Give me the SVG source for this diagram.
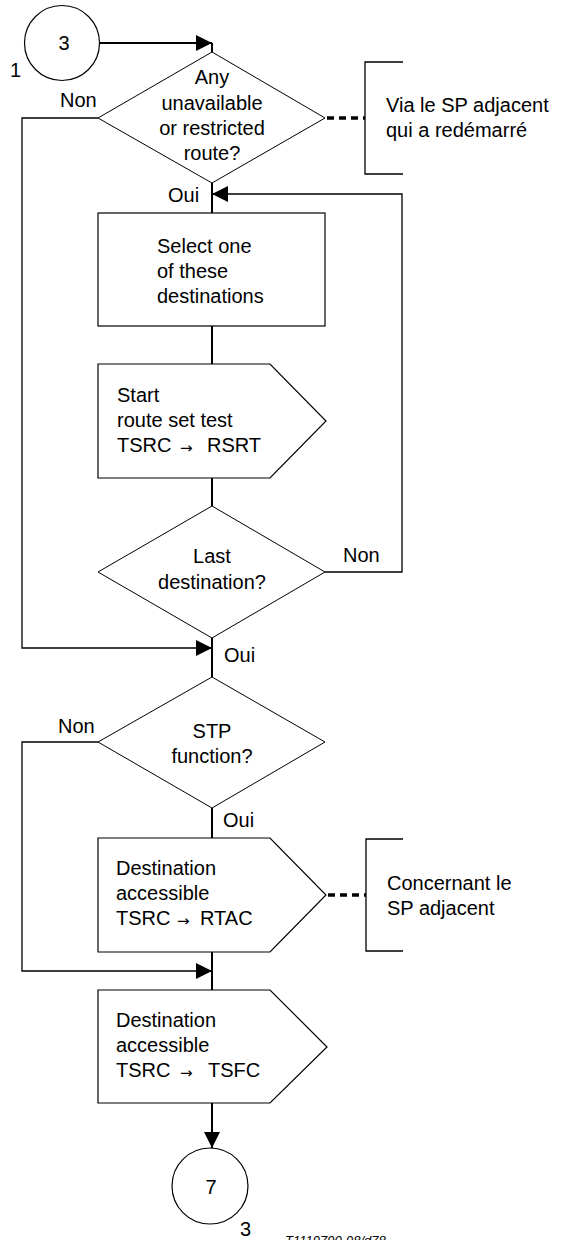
<svg xmlns="http://www.w3.org/2000/svg" width="566" height="1240" viewBox="0 0 566 1240">
<style>
.shape{fill:#fff;stroke:#000;stroke-width:1.2}
.dia{fill:#fff;stroke:#000;stroke-width:1}
.con{fill:none;stroke:#000;stroke-width:2}
.thin{fill:none;stroke:#000;stroke-width:1.3}
.dash{fill:none;stroke:#000;stroke-width:3.5;stroke-dasharray:7,5}
text{font-family:"Liberation Sans",Arial,sans-serif;font-size:20px;fill:#000}
.c{text-anchor:middle}
.arr{font-family:"DejaVu Sans",sans-serif;font-size:15px}
</style>
<defs>
<marker id="ah" markerUnits="userSpaceOnUse" markerWidth="16" markerHeight="16" viewBox="0 0 14 14" refX="14" refY="7" orient="auto">
<path d="M0,0 L14,7 L0,14 Z" fill="#000"/>
</marker>
</defs>
<g id="connectors">
<path class="con" d="M100,43 H212" marker-end="url(#ah)"/>
<path class="con" d="M212,43 V52"/>
<path class="con" d="M212,183 V213"/>
<path class="thin" d="M325,572 H402 V194 H214"/>
<path class="con" d="M226,194 H212" marker-end="url(#ah)"/>
<path class="con" d="M212,326 V364"/>
<path class="con" d="M212,478 V506"/>
<path class="thin" d="M98,118 H22 V648 H200"/>
<path class="con" d="M196,648 H212" marker-end="url(#ah)"/>
<path class="con" d="M212,638 V677"/>
<path class="con" d="M212,808 V838"/>
<path class="thin" d="M98,742 H22 V971 H200"/>
<path class="con" d="M196,971 H212" marker-end="url(#ah)"/>
<path class="con" d="M212,952 V990"/>
<path class="con" d="M212,1103 V1148" marker-end="url(#ah)"/>
<path class="dash" d="M327,118 H365"/>
<path class="dash" d="M328,895 H366"/>
<text x="60" y="107">Non</text>
<text x="168" y="202">Oui</text>
<text x="343" y="562">Non</text>
<text x="224" y="662">Oui</text>
<text x="58" y="733">Non</text>
<text x="223" y="827">Oui</text>
</g>
<g id="start">
<circle class="shape" cx="62" cy="43" r="37.5"/>
<text class="c" x="64" y="50">3</text>
<text x="10" y="77">1</text>
</g>
<g id="d1">
<polygon class="dia" points="212,52 325,118 212,183 98,118"/>
<text class="c" x="212" y="84">Any</text>
<text class="c" x="212" y="110">unavailable</text>
<text class="c" x="212" y="135">or restricted</text>
<text class="c" x="212" y="160">route?</text>
</g>
<g id="note1">
<path class="thin" d="M403,62 H365 V174 H403"/>
<text x="386" y="112">Via le SP adjacent</text>
<text x="386" y="137">qui a redémarré</text>
</g>
<g id="select">
<rect class="shape" x="98" y="213" width="227" height="113"/>
<text x="157" y="253">Select one</text>
<text x="157" y="278">of these</text>
<text x="157" y="303">destinations</text>
</g>
<g id="start-test">
<polygon class="shape" points="98,364 270,364 326,421 270,478 98,478"/>
<text x="117" y="402">Start</text>
<text x="117" y="427">route set test</text>
<text y="452"><tspan x="117">TSRC</tspan><tspan class="arr" x="180" dy="1">→</tspan><tspan x="207" dy="-1">RSRT</tspan></text>
</g>
<g id="d2">
<polygon class="dia" points="212,506 325,572 212,638 98,572"/>
<text class="c" x="212" y="563">Last</text>
<text class="c" x="212" y="589">destination?</text>
</g>
<g id="d3">
<polygon class="dia" points="212,677 325,742 212,808 98,742"/>
<text class="c" x="212" y="738">STP</text>
<text class="c" x="212" y="763">function?</text>
</g>
<g id="rtac">
<polygon class="shape" points="98,838 270,838 326,895 270,952 98,952"/>
<text x="116" y="875">Destination</text>
<text x="116" y="900">accessible</text>
<text y="925"><tspan x="116">TSRC</tspan><tspan class="arr" x="177" dy="1">→</tspan><tspan x="200" dy="-1">RTAC</tspan></text>
</g>
<g id="note2">
<path class="thin" d="M403,839 H366 V951 H403"/>
<text x="387" y="890">Concernant le</text>
<text x="387" y="915">SP adjacent</text>
</g>
<g id="tsfc">
<polygon class="shape" points="98,990 270,990 327,1047 270,1103 98,1103"/>
<text x="116" y="1027">Destination</text>
<text x="116" y="1052">accessible</text>
<text y="1077"><tspan x="116">TSRC</tspan><tspan class="arr" x="180" dy="1">→</tspan><tspan x="208" dy="-1">TSFC</tspan></text>
</g>
<g id="end">
<circle class="shape" cx="210" cy="1186" r="38"/>
<text class="c" x="211" y="1194">7</text>
<text x="240" y="1236">3</text>
</g>
<text x="285" y="1245" style="font-size:13px;font-style:italic">T1119790-98/d78</text>
</svg>
